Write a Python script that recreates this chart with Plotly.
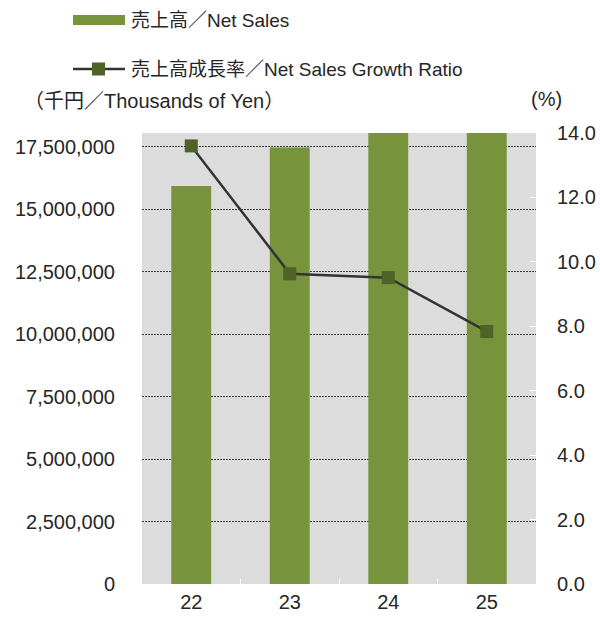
import plotly.graph_objects as go

years = ["22", "23", "24", "25"]
net_sales = [15940000, 17480000, 19130000, 20630000]
growth_ratio = [13.6, 9.63, 9.51, 7.84]
left_ticks = [0, 2500000, 5000000, 7500000, 10000000, 12500000, 15000000, 17500000]
right_ticks = [0, 2, 4, 6, 8, 10, 12, 14]

BAR = "#77933C"
MARK = "#4F6228"
FONT = "Liberation Sans, Noto Sans CJK JP, Arial, sans-serif"
TXT = "#262626"

L, R, T, B = 142, 536, 133, 584
PW, PH = R - L, B - T


def px(x):
    return (x - L) / PW


def py(y):
    return (B - y) / PH


fig = go.Figure()
fig.add_trace(go.Bar(x=years, y=net_sales, marker=dict(color=BAR, line=dict(width=0)),
                     width=0.405, name="売上高／Net Sales", showlegend=False))
fig.add_trace(go.Scatter(x=years, y=growth_ratio, yaxis="y2", mode="lines+markers",
                         line=dict(color="#333333", width=2.5),
                         marker=dict(symbol="square", size=13, color=MARK),
                         name="売上高成長率／Net Sales Growth Ratio", showlegend=False))

fig.update_layout(
    width=600, height=617,
    margin=dict(l=L, r=600 - R, t=T, b=617 - B, autoexpand=False),
    paper_bgcolor="white", plot_bgcolor="#DCDCDC",
    font=dict(family=FONT, size=20, color=TXT),
    xaxis=dict(type="category", showgrid=False, ticks="inside", tickson="boundaries",
               tickcolor="white", ticklen=5, tickfont=dict(size=20, color=TXT),
               showline=False, zeroline=False, automargin=False, ticklabelstandoff=4),
    yaxis=dict(range=[0, 18060000], tickvals=left_ticks,
               ticktext=[f"{v:,}" for v in left_ticks],
               showgrid=True, gridcolor="#3a3a3a", griddash="2px,1px", gridwidth=1,
               zeroline=False, showline=False, ticks="", ticklabelstandoff=26,
               automargin=False),
    yaxis2=dict(range=[0, 14], overlaying="y", side="right", tickvals=right_ticks,
                ticktext=[f"{v:.1f}" for v in right_ticks], showgrid=False,
                zeroline=False, showline=False, ticks="inside", tickcolor="white",
                ticklen=6, ticklabelstandoff=20, automargin=False),
)

# Legend (drawn manually)
fig.add_shape(type="rect", xref="paper", yref="paper", x0=px(73), x1=px(125),
              y0=py(25), y1=py(15), fillcolor=BAR, line=dict(width=0))
fig.add_annotation(xref="paper", yref="paper", x=px(129), y=py(20),
                   text="売上高／Net Sales", showarrow=False, xanchor="left", yanchor="middle",
                   font=dict(size=19, color=TXT))
fig.add_shape(type="line", xref="paper", yref="paper", x0=px(73), x1=px(125),
              y0=py(69), y1=py(69), line=dict(color="#333333", width=2.5))
fig.add_shape(type="rect", xref="paper", yref="paper", x0=px(92), x1=px(105),
              y0=py(75.5), y1=py(62.5), fillcolor=MARK, line=dict(width=0))
fig.add_annotation(xref="paper", yref="paper", x=px(129), y=py(69),
                   text="売上高成長率／Net Sales Growth Ratio", showarrow=False,
                   xanchor="left", yanchor="middle", font=dict(size=19, color=TXT))
# Axis titles
fig.add_annotation(xref="paper", yref="paper", x=px(22), y=py(101),
                   text="（千円／Thousands of Yen）", showarrow=False, xanchor="left",
                   yanchor="middle", font=dict(size=20, color=TXT))
fig.add_annotation(xref="paper", yref="paper", x=px(546), y=py(99),
                   text="(%)", showarrow=False, xanchor="center",
                   yanchor="middle", font=dict(size=20, color=TXT))

fig.write_html("out.html", config={"displayModeBar": False},
               post_script="document.body.style.margin='0';document.body.style.overflow='hidden';")
